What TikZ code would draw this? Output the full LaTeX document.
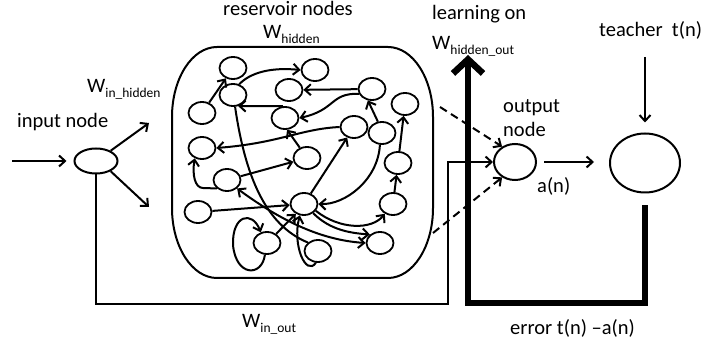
\documentclass[tikz,border=0pt]{standalone}
\usepackage{fontspec}
\setmainfont{Carlito}
\usetikzlibrary{arrows.meta,calc,shapes.geometric}
\newcommand\lsub[1]{\raisebox{-4.5pt}{\fontsize{13.5}{14}\selectfont #1}}
\begin{document}
\begin{tikzpicture}[x=1pt,y=1pt,
  lw/.style={line width=2pt},
  rn/.style={ellipse,draw,line width=1.8pt,minimum width=27pt,minimum height=22pt,inner sep=0pt},
  bn/.style={ellipse,draw,line width=2pt,inner sep=0pt},
  ar/.style={line width=2pt,-{Straight Barb[length=6pt,width=11pt]}},
  dar/.style={ar,dash pattern=on 8pt off 5pt},
  txt/.style={anchor=base west,inner sep=0pt,font=\fontsize{20.5}{24}\selectfont}]
\useasboundingbox (0,0) rectangle (728,345);

% reservoir box
\draw[lw] (172,228) arc[start angle=180,end angle=90,x radius=45,y radius=70]
  -- (388,298) arc[start angle=90,end angle=0,x radius=45,y radius=70]
  -- (433,137) arc[start angle=0,end angle=-90,x radius=45,y radius=70]
  -- (217,67) arc[start angle=270,end angle=180,x radius=45,y radius=70] -- cycle;

% reservoir nodes
\node[rn] (n1) at (233,277) {};
\node[rn] (n2) at (315,275) {};
\node[rn] (n3) at (233,250) {};
\node[rn] (n4) at (289,255) {};
\node[rn] (n5) at (372,256) {};
\node[rn] (n6) at (202,232) {};
\node[rn] (n7) at (285,227) {};
\node[rn] (n8) at (405,241) {};
\node[rn] (n9) at (354,218) {};
\node[rn] (n10) at (382,212) {};
\node[rn] (n11) at (202,197) {};
\node[rn] (n12) at (307,187) {};
\node[rn] (n13) at (227,165) {};
\node[rn] (n14) at (398,182) {};
\node[rn] (n15) at (198,133) {};
\node[rn] (n16) at (304,141) {};
\node[rn] (n17) at (393,141) {};
\node[rn] (n18) at (267,102) {};
\node[rn] (n19) at (318,94) {};
\node[rn] (n20) at (380,102) {};

% reservoir edges
\draw[ar] (n6) -- (n1);
\draw[ar] (n3.60) .. controls (250,272) and (270,278) .. (n2.west);
\draw[ar] (n5) -- (n4);
\draw[ar] (n5.200) .. controls (330,252) and (336,235) .. (n7.east);
\draw[ar] (n10.110) -- (n5.-110);
\draw[ar] (n9.west) .. controls (300,216) and (280,202) .. (n11.east);
\draw[ar] (n12.125) -- (n7.-80);
\draw[ar] (n13) -- (n12);
\draw[ar] (n13.220) -- (203,157) .. controls (195,157) and (192,170) .. (n11.-125);
\draw[ar] (n15) -- (n16);
\draw[ar] (n16) -- (n9);
\draw[ar] (n10.-100) .. controls (378,165) and (345,140) .. (n16.east);
\draw[ar] (n14) -- (n8);
\draw[ar] (n17) -- (n14);
\draw[ar] (n16.-30) .. controls (340,115) and (372,115) .. (n17.-130);
\draw[ar] (n16.-45) .. controls (330,115) and (350,112) .. (n20.140);
\draw[lw,{Straight Barb[length=6pt,width=11pt]}-{Straight Barb[length=6pt,width=11pt]}] (n13.-40) .. controls (280,125) and (320,105) .. (n20.west);
\draw[lw] (n3.-80) .. controls (245,170) and (265,120) .. (n19.140);
\draw[ar] (n7.100) -- (n3.-65);
\draw[ar] (n19.-100) .. controls (306,68) and (292,100) .. (n16.-110);
\draw[ar] (n18.45) -- (n16.-130);
\draw[ar] (n18.-100) .. controls (262,68) and (236,68) .. (233,100) .. controls (232,130) and (252,135) .. (n18.120);

% main nodes
\node[bn,minimum width=43pt,minimum height=25pt] (in) at (96,184) {};
\node[bn,minimum width=42pt,minimum height=36pt] (out) at (515,183) {};
\node[bn,minimum width=70pt,minimum height=59pt] (teacher) at (645,182) {};

% free ends
\coordinate (ia) at (12,184);
\coordinate (ih1) at (149,222);
\coordinate (ih2) at (149,138);
\coordinate (d1) at (440,238);
\coordinate (d2) at (433,112);
\coordinate (tt) at (645,288);
\coordinate (lt) at (468,290);

\draw[ar,shorten >=7pt] (ia) -- (in.west);
\draw[ar] (in.35) -- (ih1);
\draw[ar] (in.-35) -- (ih2);
\draw[ar] (in.south) -- (96,41) -| (448,183) -- (out.west);
\draw[dar] (d1) -- (out.130);
\draw[dar] (d2) -- (out.-130);
\draw[ar,shorten <=7pt,shorten >=15pt] (out.east) -- (out.east -| teacher.west);
\draw[ar,shorten >=10pt] (tt) -- (teacher.north);
\draw[line width=6.5pt,-{Straight Barb[length=14pt,width=30pt]}] ($(teacher.south)+(0,-12)$) |- (468,42) -- (lt);

% texts
\node[txt] (tin) at (17,217) {input node};
\node[txt] (twih) at (87,252) {W\lsub{in\_hidden}};
\node[txt] (tres) at (223,329) {reservoir nodes};
\node[txt] (twh) at (263,306) {W\lsub{hidden}};
\node[txt] (tlo) at (432,325) {learning on};
\node[txt] (twho) at (432,295) {W\lsub{hidden\_out}};
\node[txt] (tteach) at (599,308) {teacher\ \ t(n)};
\node[txt] (tout) at (503,232) {output};
\node[txt] (tnode) at (503,208) {node};
\node[txt] (tan) at (537,152) {a(n)};
\node[txt] (terr) at (510,10) {error t(n) –a(n)};
\node[txt] (twio) at (242,17) {W\lsub{in\_out}};
\end{tikzpicture}
\end{document}
